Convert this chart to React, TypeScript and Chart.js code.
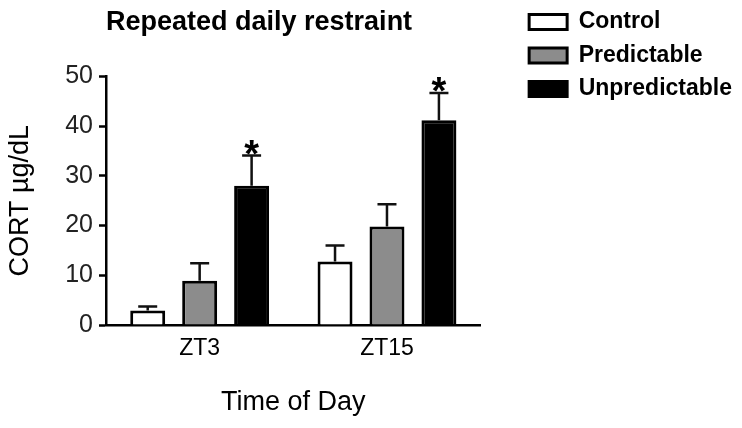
import React, { useEffect, useRef } from 'react';
import { Chart, registerables } from 'chart.js';

Chart.register(...registerables);

const categories = ['ZT3', 'ZT15'];
const seriesNames = ['Control', 'Predictable', 'Unpredictable'];
const controlValues = [2.9, 12.8];
const controlErrors = [0.8, 3.2];
const predictableValues = [8.9, 19.8];
const predictableErrors = [3.5, 4.5];
const unpredictableValues = [28.0, 41.2];
const unpredictableErrors = [6.1, 5.5];
const unpredictableMarks = ['*', '*'];
const yTicks = [0, 10, 20, 30, 40, 50];

const chartTitle = 'Repeated daily restraint';
const yTitle = 'CORT µg/dL';
const xTitle = 'Time of Day';

const FONT = "'Liberation Sans', Arial, Helvetica, sans-serif";

const errorBarPlugin = {
  id: 'errorBars',
  afterDatasetsDraw(chart: any) {
    const { ctx } = chart;
    const yScale = chart.scales.y;
    chart.data.datasets.forEach((ds: any, i: number) => {
      const meta = chart.getDatasetMeta(i);
      meta.data.forEach((bar: any, j: number) => {
        const v = ds.data[j];
        const e = ds.errors[j];
        const yTop = yScale.getPixelForValue(v);
        const yErr = yScale.getPixelForValue(v + e);
        ctx.save();
        ctx.strokeStyle = '#111';
        ctx.lineWidth = 2.5;
        ctx.beginPath();
        ctx.moveTo(bar.x, yTop);
        ctx.lineTo(bar.x, yErr);
        ctx.moveTo(bar.x - 9.5, yErr);
        ctx.lineTo(bar.x + 9.5, yErr);
        ctx.stroke();
        const mark = ds.marks ? ds.marks[j] : '';
        if (mark) {
          ctx.font = `bold 38px ${FONT}`;
          ctx.textAlign = 'center';
          ctx.textBaseline = 'alphabetic';
          ctx.fillStyle = '#000';
          ctx.fillText(mark, bar.x, yErr + 11);
        }
        ctx.restore();
      });
    });
  },
};

export default function App() {
  const ref = useRef<HTMLCanvasElement | null>(null);

  useEffect(() => {
    if (!ref.current) return;
    const chart = new Chart(ref.current, {
      type: 'bar',
      data: {
        labels: categories,
        datasets: [
          {
            label: seriesNames[0],
            data: controlValues,
            errors: controlErrors,
            backgroundColor: '#ffffff',
            borderColor: '#000000',
            borderWidth: 3,
            yAxisID: 'y',
          } as any,
          {
            label: seriesNames[1],
            data: predictableValues,
            errors: predictableErrors,
            backgroundColor: '#8c8c8c',
            borderColor: '#000000',
            borderWidth: 3,
            yAxisID: 'y',
          } as any,
          {
            label: seriesNames[2],
            data: unpredictableValues,
            errors: unpredictableErrors,
            marks: unpredictableMarks,
            backgroundColor: '#000000',
            borderColor: '#000000',
            borderWidth: 3,
            yAxisID: 'y',
          } as any,
        ],
      },
      options: {
        responsive: false,
        animation: false,
        devicePixelRatio: 1,
        layout: { padding: 0 },
        datasets: {
          bar: { categoryPercentage: 0.832, barPercentage: 0.673 },
        },
        scales: {
          y: {
            position: 'left',
            min: yTicks[0],
            max: yTicks[yTicks.length - 1],
            ticks: {
              stepSize: yTicks[1] - yTicks[0],
              color: '#222',
              padding: 6,
              font: { family: FONT, size: 25 },
            },
            grid: {
              display: true,
              drawOnChartArea: false,
              drawTicks: true,
              tickLength: 7,
              tickWidth: 2.5,
              tickColor: '#000',
            },
            border: { display: true, color: '#000', width: 2.5 },
            title: {
              display: true,
              text: yTitle,
              color: '#000',
              font: { family: FONT, size: 27 },
              padding: { top: 4, bottom: 0 },
            },
            afterFit: (s: any) => {
              s.width = 106;
            },
          },
          yGap: {
            position: 'right',
            display: true,
            grid: { display: false },
            border: { display: false },
            ticks: { display: false },
            afterFit: (s: any) => {
              s.width = 38;
            },
          },
          x: {
            ticks: {
              color: '#000',
              padding: 10,
              font: { family: FONT, size: 23 },
            },
            grid: { display: false, drawTicks: false },
            border: { display: true, color: '#000', width: 2.5 },
            title: {
              display: true,
              text: xTitle,
              color: '#000',
              font: { family: FONT, size: 27 },
              padding: { top: 0, bottom: 9.5 },
            },
            afterFit: (s: any) => {
              s.height = 103;
            },
          },
        },
        plugins: {
          tooltip: { enabled: false },
          title: {
            display: true,
            text: chartTitle,
            fullSize: false,
            align: 'start',
            color: '#000',
            font: { family: FONT, size: 27, weight: 'bold' },
            padding: { top: 6.5, bottom: 37.6 },
          },
          legend: {
            display: true,
            position: 'right',
            align: 'start',
            maxWidth: 260,
            labels: {
              boxWidth: 38,
              boxHeight: 15,
              padding: 10.5,
              color: '#000',
              font: { family: FONT, size: 23, weight: 'bold' },
            },
          },
        },
      } as any,
      plugins: [errorBarPlugin],
    });
    return () => chart.destroy();
  }, []);

  return (
    <div style={{ position: 'absolute', left: 0, top: 0, width: 742, height: 428, background: '#fff' }}>
      <canvas ref={ref} width={742} height={428} style={{ display: 'block' }} />
    </div>
  );
}
